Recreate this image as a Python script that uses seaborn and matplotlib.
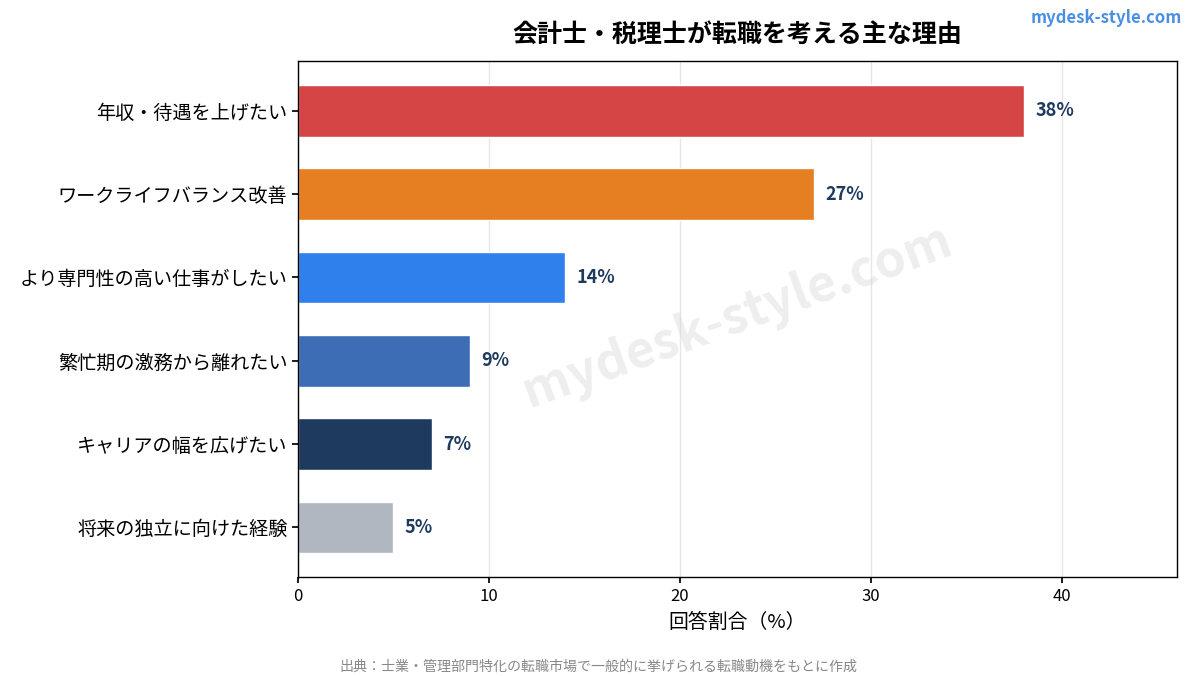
import matplotlib
matplotlib.use("Agg")
import matplotlib.pyplot as plt
import seaborn as sns
import pandas as pd

# data
reasons = [
    "年収・待遇を上げたい",
    "ワークライフバランス改善",
    "より専門性の高い仕事がしたい",
    "繁忙期の激務から離れたい",
    "キャリアの幅を広げたい",
    "将来の独立に向けた経験",
]
shares = [38, 27, 14, 9, 7, 5]
bar_colors = ["#D64545", "#E67E22", "#2F80ED", "#3D6DB5", "#1F3A5F", "#B0B7C0"]

sns.set_theme(style="white")
plt.rcParams["font.family"] = ["Noto Sans CJK JP", "DejaVu Sans"]
plt.rcParams["text.color"] = "black"
plt.rcParams["axes.labelcolor"] = "black"
plt.rcParams["xtick.color"] = "black"
plt.rcParams["ytick.color"] = "black"

df = pd.DataFrame({"reason": reasons, "share": shares})

fig = plt.figure(figsize=(11.96, 6.76), dpi=100)
ax = fig.add_axes([0.249, 0.146, 0.735, 0.764])

sns.barplot(data=df, y="reason", x="share", hue="reason", palette=bar_colors,
            saturation=1, legend=False, width=0.62, ax=ax, zorder=2)

for i, v in enumerate(shares):
    ax.text(v + 0.6, i, f"{v}%", va="center", ha="left", fontsize=13,
            fontweight="bold", color="#1F3A5F")

ax.set_xlim(0, 46)
ax.set_ylim(5.6, -0.6)
ax.set_xticks([0, 10, 20, 30, 40])
ax.xaxis.grid(True, color="#E6E6E6", linewidth=1, zorder=0)
ax.set_axisbelow(True)
ax.tick_params(axis="x", labelsize=12, length=4, color="black", bottom=True)
ax.tick_params(axis="y", labelsize=13.8, length=4, color="black", left=True)
ax.set_ylabel("")
ax.set_xlabel("回答割合（%）", fontsize=14.3, labelpad=5)
for s in ax.spines.values():
    s.set_color("black")
    s.set_linewidth(1.0)

ax.set_title("会計士・税理士が転職を考える主な理由", fontsize=18, fontweight="bold", pad=14)

# watermark
ax.text(0.5, 0.505, "mydesk-style.com", transform=ax.transAxes, fontsize=36,
        fontweight="bold", color="#D0D0D0", alpha=0.35, rotation=20,
        ha="center", va="center", zorder=1)

fig.text(0.988, 0.973, "mydesk-style.com", ha="right", va="center", fontsize=12,
         fontweight="bold", color="#4A90E2")
fig.text(0.5, 0.003, "出典：士業・管理部門特化の転職市場で一般的に挙げられる転職動機をもとに作成",
         ha="center", va="bottom", fontsize=10.1, color="#888888")

fig.savefig("out.png", dpi=100)
